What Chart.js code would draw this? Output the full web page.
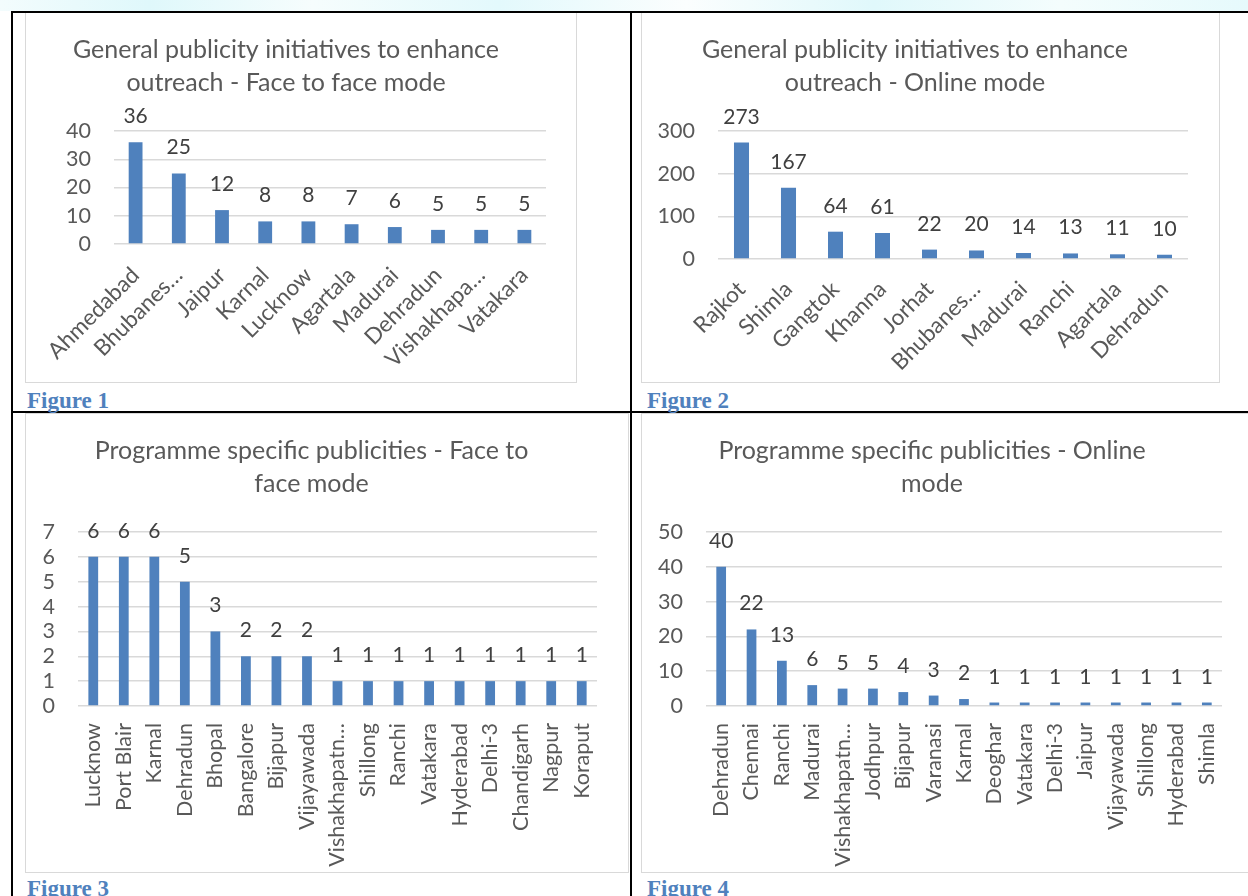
<!DOCTYPE html>
<html>
<head>
<meta charset="utf-8">
<script src="https://cdn.jsdelivr.net/npm/chart.js@4"></script>
<style>
body { margin:0; width:1248px; height:896px; overflow:hidden; background:#fff; position:relative; }
.band { position:absolute; left:0; top:0; width:1248px; height:11px;
  background: linear-gradient(90deg, #f3fcfd 0%, #dff8fb 12%, #f6fdfd 25%, #e3f9fc 40%, #fbfefe 55%, #e0f8fb 70%, #f4fdfd 85%, #e6fafc 100%); }
.box { position:absolute; border:1.5px solid #d9d9d9; box-sizing:border-box; background:#fff; overflow:hidden; }
.box canvas { position:absolute; left:0; top:0; }
.line { position:absolute; background:#000; }
.cap { position:absolute; font: bold 23px "Liberation Serif", serif; line-height:23px; color:#4f81bd; }
</style>
</head>
<body>
<div class="band"></div>
<div class="box" style="left:25px; top:12px; width:552px; height:371px;"><canvas id="chart1" width="549" height="368"></canvas></div>
<div class="box" style="left:641px; top:12px; width:579px; height:371px;"><canvas id="chart2" width="576" height="368"></canvas></div>
<div class="box" style="left:25px; top:413px; width:604px; height:460px;"><canvas id="chart3" width="601" height="457"></canvas></div>
<div class="box" style="left:641px; top:413px; width:612px; height:460px;"><canvas id="chart4" width="609" height="457"></canvas></div>

<div class="line" style="left:11px; top:11px; width:1237px; height:2px;"></div>
<div class="line" style="left:11px; top:411px; width:1237px; height:2px;"></div>
<div class="line" style="left:11px; top:11px; width:2px; height:885px;"></div>
<div class="line" style="left:630px; top:11px; width:2px; height:885px;"></div>

<div class="cap" style="left:27px; top:389px;">Figure 1</div>
<div class="cap" style="left:647px; top:389px;">Figure 2</div>
<div class="cap" style="left:27px; top:877px;">Figure 3</div>
<div class="cap" style="left:647px; top:877px;">Figure 4</div>

<script>
// figure 1 - general publicity, face to face
const fig1Cities = ['Ahmedabad', 'Bhubanes…', 'Jaipur', 'Karnal', 'Lucknow', 'Agartala', 'Madurai', 'Dehradun', 'Vishakhapa…', 'Vatakara'];
const fig1Values = [36, 25, 12, 8, 8, 7, 6, 5, 5, 5];
const fig1Axis = { max: 40, step: 10 };

// figure 2 - general publicity, online
const fig2Cities = ['Rajkot', 'Shimla', 'Gangtok', 'Khanna', 'Jorhat', 'Bhubanes…', 'Madurai', 'Ranchi', 'Agartala', 'Dehradun'];
const fig2Values = [273, 167, 64, 61, 22, 20, 14, 13, 11, 10];
const fig2Axis = { max: 300, step: 100 };

// figure 3 - programme specific, face to face
const fig3Cities = ['Lucknow', 'Port Blair', 'Karnal', 'Dehradun', 'Bhopal', 'Bangalore', 'Bijapur', 'Vijayawada', 'Vishakhapatn…', 'Shillong', 'Ranchi', 'Vatakara', 'Hyderabad', 'Delhi-3', 'Chandigarh', 'Nagpur', 'Koraput'];
const fig3Values = [6, 6, 6, 5, 3, 2, 2, 2, 1, 1, 1, 1, 1, 1, 1, 1, 1];
const fig3Axis = { max: 7, step: 1 };

// figure 4 - programme specific, online
const fig4Cities = ['Dehradun', 'Chennai', 'Ranchi', 'Madurai', 'Vishakhapatn…', 'Jodhpur', 'Bijapur', 'Varanasi', 'Karnal', 'Deoghar', 'Vatakara', 'Delhi-3', 'Jaipur', 'Vijayawada', 'Shillong', 'Hyderabad', 'Shimla'];
const fig4Values = [40, 22, 13, 6, 5, 5, 4, 3, 2, 1, 1, 1, 1, 1, 1, 1, 1];
const fig4Axis = { max: 50, step: 10 };

const barColor = '#4f81bd';
const textColor = '#595959';

// values written above each bar
const valueLabels = {
    id: 'valueLabels',
    afterDatasetsDraw(chart) {
        const ctx = chart.ctx;
        const meta = chart.getDatasetMeta(0);
        ctx.save();
        ctx.font = '21px Lato';
        ctx.fillStyle = '#404040';
        ctx.textAlign = 'center';
        ctx.textBaseline = 'alphabetic';
        meta.data.forEach(function (bar, i) {
            ctx.fillText(chart.data.datasets[0].data[i], bar.x, bar.y - 19);
        });
        ctx.restore();
    }
};

function makeChart(id, title, labels, values, axis, o) {
    return new Chart(document.getElementById(id), {
        type: 'bar',
        data: {
            labels: labels,
            datasets: [{
                data: values,
                backgroundColor: barColor,
                barPercentage: 0.32,
                categoryPercentage: 1
            }]
        },
        options: {
            responsive: false,
            animation: false,
            layout: { padding: { left: 0, right: o.padRight, top: 0, bottom: 0 } },
            plugins: {
                legend: { display: false },
                tooltip: { enabled: false },
                title: {
                    display: true,
                    text: title,
                    color: textColor,
                    font: { family: 'Lato', size: 25, weight: 'normal', lineHeight: 1.32 },
                    padding: { top: 20, bottom: 32 }
                }
            },
            scales: {
                x: {
                    grid: { display: false },
                    border: { display: false },
                    ticks: {
                        color: textColor,
                        font: { family: 'Lato', size: o.xFont },
                        minRotation: o.rot,
                        maxRotation: o.rot,
                        autoSkip: false,
                        padding: o.xPad
                    },
                    afterFit: function (s) { s.height = o.xHeight; }
                },
                y: {
                    min: 0,
                    max: axis.max,
                    grid: { color: '#d9d9d9', lineWidth: 1.5, drawTicks: false },
                    border: { display: false },
                    ticks: {
                        stepSize: axis.step,
                        autoSkip: false,
                        color: textColor,
                        font: { family: 'Lato', size: 21.5 },
                        padding: 23
                    },
                    afterFit: function (s) { s.width = o.yWidth; }
                }
            }
        },
        plugins: [valueLabels]
    });
}

document.fonts.load('21px Lato').then(function () {
    makeChart('chart1', ['General publicity initiatives to enhance', 'outreach - Face to face mode'],
        fig1Cities, fig1Values, fig1Axis, { yWidth: 88, xHeight: 137, padRight: 29, rot: 45, xPad: 10, xFont: 22.5 });
    makeChart('chart2', ['General publicity initiatives to enhance', 'outreach - Online mode'],
        fig2Cities, fig2Values, fig2Axis, { yWidth: 76, xHeight: 122, padRight: 30, rot: 45, xPad: 9, xFont: 22.5 });
    makeChart('chart3', ['Programme specific publicities - Face to', 'face mode'],
        fig3Cities, fig3Values, fig3Axis, { yWidth: 52, xHeight: 165, padRight: 30, rot: 90, xPad: 9, xFont: 21.5 });
    makeChart('chart4', ['Programme specific publicities - Online', 'mode'],
        fig4Cities, fig4Values, fig4Axis, { yWidth: 64, xHeight: 165, padRight: 29, rot: 90, xPad: 9, xFont: 21.5 });
});
</script>
</body>
</html>
